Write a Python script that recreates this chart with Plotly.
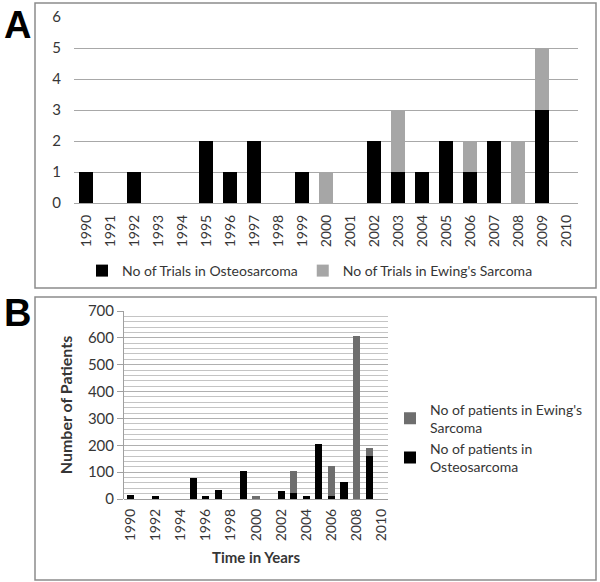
import plotly.graph_objects as go

years = [str(y) for y in range(1990, 2011)]

# Panel A: number of trials
trials_osteo = [1, 0, 1, 0, 0, 2, 1, 2, 0, 1, 0, 0, 2, 1, 1, 2, 1, 2, 0, 3, 0]
trials_ewing = [0, 0, 0, 0, 0, 0, 0, 0, 0, 0, 1, 0, 0, 2, 0, 0, 1, 0, 2, 2, 0]

# Panel B: number of patients
patients_osteo = [15, 0, 13, 0, 0, 77, 13, 35, 0, 103, 0, 0, 30, 23, 13, 205, 12, 65, 0, 160, 0]
patients_ewing = [0, 0, 0, 0, 0, 0, 0, 0, 0, 0, 13, 0, 0, 82, 0, 0, 110, 0, 608, 30, 0]
b_ticks = [str(y) for y in range(1990, 2011, 2)]

W, H = 600, 582
def px_x(v):
    return v / W
def px_y(v):
    return 1 - v / H

FONT = "Lato"
TXT = "#363636"

fig = go.Figure()
fig.add_bar(x=years, y=trials_osteo, name="No of Trials in Osteosarcoma",
            marker_color="#000000", marker_line_width=0, xaxis="x", yaxis="y", legend="legend")
fig.add_bar(x=years, y=trials_ewing, name="No of Trials in Ewing's Sarcoma",
            marker_color="#a6a6a6", marker_line_width=0, xaxis="x", yaxis="y", legend="legend")
fig.add_bar(x=years, y=patients_osteo, name="No of patients in<br>Osteosarcoma",
            marker_color="#000000", marker_line_width=0, xaxis="x2", yaxis="y2", legend="legend2")
fig.add_bar(x=years, y=patients_ewing, name="No of patients in Ewing's<br>Sarcoma",
            marker_color="#6e6e6e", marker_line_width=0, xaxis="x2", yaxis="y2", legend="legend2")

fig.update_layout(
    width=W, height=H, margin=dict(l=0, r=0, t=0, b=0, pad=0, autoexpand=False),
    paper_bgcolor="white", plot_bgcolor="white",
    barmode="stack", bargap=0.44,
    font=dict(family=FONT, size=14, color=TXT),
    showlegend=True,
    xaxis=dict(domain=[px_x(74), px_x(578)], anchor="y", type="category",
               categoryorder="array", categoryarray=years, automargin=False,
               tickangle=-90, tickfont=dict(size=14, color=TXT),
               showgrid=False, showline=False, ticks="", ticklabelstandoff=8),
    yaxis=dict(domain=[px_y(203), px_y(17)], anchor="x", range=[0, 6], automargin=False,
               tickvals=[0, 1, 2, 3, 4, 5, 6], showgrid=True, gridcolor="#a8a8a8",
               gridwidth=1, zeroline=True, zerolinecolor="#a8a8a8", zerolinewidth=1,
               showline=False, ticks="", ticklabelstandoff=12,
               tickfont=dict(size=15, color=TXT)),
    xaxis2=dict(domain=[px_x(124), px_x(388)], anchor="y2", type="category",
                categoryorder="array", categoryarray=years, automargin=False,
                tickvals=b_ticks, ticktext=b_ticks,
                tickangle=-90, tickfont=dict(size=14, color=TXT),
                showgrid=False, showline=False, ticks="", ticklabelstandoff=6,
                title=dict(text="<b>Time in Years</b>", font=dict(size=15, color=TXT), standoff=12)),
    yaxis2=dict(domain=[px_y(499), px_y(311)], anchor="x2", range=[0, 700], automargin=False,
                tickvals=[0, 100, 200, 300, 400, 500, 600, 700],
                showgrid=True, gridcolor="#b0b0b0", gridwidth=1,
                minor=dict(dtick=20, showgrid=True, gridcolor="#c4c4c4", gridwidth=1),
                zeroline=True, zerolinecolor="#a0a0a0", zerolinewidth=1,
                showline=True, linecolor="#a0a0a0", linewidth=1,
                ticks="outside", ticklen=6, tickcolor="#a0a0a0",
                tickfont=dict(size=15, color=TXT),
                title=dict(text="<b>Number of Patients</b>", font=dict(size=16, color=TXT), standoff=11)),
    legend=dict(orientation="h", x=px_x(82), y=px_y(271), xanchor="left", yanchor="middle",
                traceorder="normal", font=dict(size=14, color=TXT), itemwidth=30,
                bgcolor="rgba(0,0,0,0)", tracegroupgap=0),
    legend2=dict(orientation="v", x=px_x(390), y=px_y(438), xanchor="left", yanchor="middle",
                 traceorder="reversed", font=dict(size=14, color=TXT), itemwidth=30,
                 bgcolor="rgba(0,0,0,0)", tracegroupgap=6),
    shapes=[
        dict(type="rect", xref="paper", yref="paper", x0=px_x(35), x1=px_x(596),
             y0=px_y(288), y1=px_y(3), line=dict(color="#8c8c8c", width=1.5)),
        dict(type="rect", xref="paper", yref="paper", x0=px_x(35), x1=px_x(596),
             y0=px_y(580), y1=px_y(297), line=dict(color="#8c8c8c", width=1.5)),
    ],
    annotations=[
        dict(text="<b>A</b>", xref="paper", yref="paper", x=px_x(17), y=px_y(25),
             xanchor="center", yanchor="middle",
             showarrow=False, font=dict(family="Liberation Sans", size=38, color="black")),
        dict(text="<b>B</b>", xref="paper", yref="paper", x=px_x(17), y=px_y(313),
             xanchor="center", yanchor="middle",
             showarrow=False, font=dict(family="Liberation Sans", size=38, color="black")),
    ],
)

fig.write_html("out.html", config={"displayModeBar": False},
               post_script="document.body.style.margin='0';document.body.style.overflow='hidden';")
